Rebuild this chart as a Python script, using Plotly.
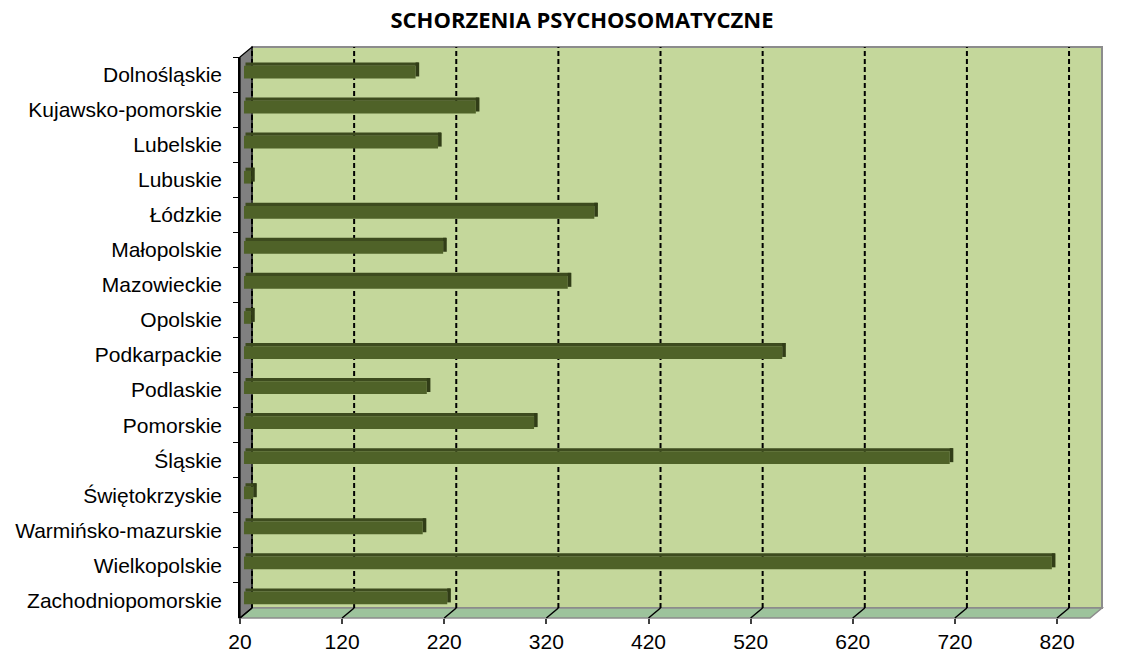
import plotly.graph_objects as go

# ---------------- data ----------------
categories = [
    "Dolnośląskie", "Kujawsko-pomorskie", "Lubelskie", "Lubuskie", "Łódzkie",
    "Małopolskie", "Mazowieckie", "Opolskie", "Podkarpackie", "Podlaskie",
    "Pomorskie", "Śląskie", "Świętokrzyskie", "Warmińsko-mazurskie",
    "Wielkopolskie", "Zachodniopomorskie",
]
values = [188, 247, 210, 27, 363, 215, 337, 27, 547, 199, 304, 711, 29, 195, 811, 219]
tick_values = [20, 120, 220, 320, 420, 520, 620, 720, 820]
tick_labels = ["20", "120", "220", "320", "420", "520", "620", "720", "820"]
title_text = "SCHORZENIA PSYCHOSOMATYCZNE"

# ---------------- geometry (pixels) ----------------
W, H = 1124, 656
FX0, FX1, FY0, FY1 = 240, 1090, 57, 618   # front plane
DX, DY = 12, -10                           # depth offset of back wall
X_MIN = 20
PX_PER_UNIT = 1.0213
X_MAX = X_MIN + (FX1 - FX0) / PX_PER_UNIT


def fx(p):
    return p / W


def fy(p):
    return 1 - p / H


u = 1 / PX_PER_UNIT
cat_px = (FY1 - FY0) / len(categories)
bar_dx = 4 * u
face_h = 12.7 / cat_px
lift = 2.5 / cat_px
top_h = 3.2 / cat_px
side_w = 3.6 * u

FRONT = "#4f6228"
TOP = "#3d4b1e"
SIDE = "#313d17"

fig = go.Figure()

# front faces of the bars
fig.add_trace(go.Bar(
    y=categories, x=[v - X_MIN for v in values], base=X_MIN + bar_dx,
    orientation="h", width=face_h, offset=-face_h / 2 - lift,
    marker=dict(color=FRONT, line=dict(width=0)),
    showlegend=False, hoverinfo="skip",
))
# top faces
fig.add_trace(go.Bar(
    y=categories, x=[v - X_MIN + 1.5 * u for v in values], base=X_MIN + bar_dx + 1.5 * u,
    orientation="h", width=top_h, offset=-face_h / 2 - lift - top_h,
    marker=dict(color=TOP, line=dict(width=0)),
    showlegend=False, hoverinfo="skip",
))
# right side faces
fig.add_trace(go.Bar(
    y=categories, x=[side_w] * len(values), base=[v + bar_dx for v in values],
    orientation="h", width=face_h + top_h * 0.4, offset=-face_h / 2 - lift - top_h,
    marker=dict(color=SIDE, line=dict(width=0)),
    showlegend=False, hoverinfo="skip",
))

shapes = []
# back wall
shapes.append(dict(type="rect", xref="paper", yref="paper",
                   x0=fx(FX0 + DX), x1=fx(FX1 + DX), y0=fy(FY1 + DY), y1=fy(FY0 + DY),
                   fillcolor="#c4d79b", line=dict(color="#8c8c8c", width=2), layer="below"))
# floor
floor_path = "M {} {} L {} {} L {} {} L {} {} Z".format(
    fx(FX0), fy(FY1), fx(FX1), fy(FY1), fx(FX1 + DX), fy(FY1 + DY), fx(FX0 + DX), fy(FY1 + DY))
shapes.append(dict(type="path", xref="paper", yref="paper", path=floor_path,
                   fillcolor="#9dc39c", line=dict(color="#8c8c8c", width=1.5), layer="below"))
# left wall
wall_path = "M {} {} L {} {} L {} {} L {} {} Z".format(
    fx(FX0), fy(FY0), fx(FX0 + DX), fy(FY0 + DY), fx(FX0 + DX), fy(FY1 + DY), fx(FX0), fy(FY1))
shapes.append(dict(type="path", xref="paper", yref="paper", path=wall_path,
                   fillcolor="#808080", line=dict(color="#000000", width=1.2), layer="below"))
# dashed grid lines on the back wall + their diagonals on the floor
for v in tick_values:
    shapes.append(dict(type="line", xref="x", yref="paper",
                       x0=v + DX * u, x1=v + DX * u, y0=fy(FY1 + DY), y1=fy(FY0 + DY),
                       line=dict(color="#000000", width=2, dash="5px,3px"), layer="below"))
    shapes.append(dict(type="line", xref="x", yref="paper",
                       x0=v, x1=v + DX * u, y0=fy(FY1), y1=fy(FY1 + DY),
                       line=dict(color="#000000", width=1.5), layer="below"))

fig.update_layout(
    width=W, height=H,
    margin=dict(l=0, r=0, t=0, b=0, pad=0),
    paper_bgcolor="white",
    plot_bgcolor="rgba(0,0,0,0)",
    barmode="overlay",
    showlegend=False,
    shapes=shapes,
    title=dict(text=title_text, x=fx(582), xref="paper", xanchor="center",
               y=fy(20), yref="paper", yanchor="middle", automargin=False,
               font=dict(family="Open Sans", size=22, color="black", weight=700)),
    xaxis=dict(domain=[fx(FX0), fx(FX1)], range=[X_MIN, X_MAX], anchor="y",
               tickmode="array", tickvals=tick_values, ticktext=tick_labels,
               ticks="outside", ticklen=5, tickwidth=1.5, tickcolor="#404040",
               showgrid=False, zeroline=False, showline=False, automargin=False,
               tickfont=dict(family="Liberation Sans", size=21, color="black"),
               fixedrange=True),
    yaxis=dict(domain=[fy(FY1), fy(FY0)], anchor="x", type="category",
               categoryorder="array", categoryarray=categories,
               range=[len(categories) - 0.5, -0.5],
               ticks="outside", tickson="boundaries", ticklen=5, tickwidth=1.2, tickcolor="#000000",
               showgrid=False, zeroline=False, showline=True, linecolor="#000000", linewidth=1.5,
               automargin=False, ticklabelstandoff=12,
               tickfont=dict(family="Liberation Sans", size=21, color="black"),
               fixedrange=True),
)

fig.write_html("out.html", config={"displayModeBar": False},
               post_script="document.body.style.margin='0';")
